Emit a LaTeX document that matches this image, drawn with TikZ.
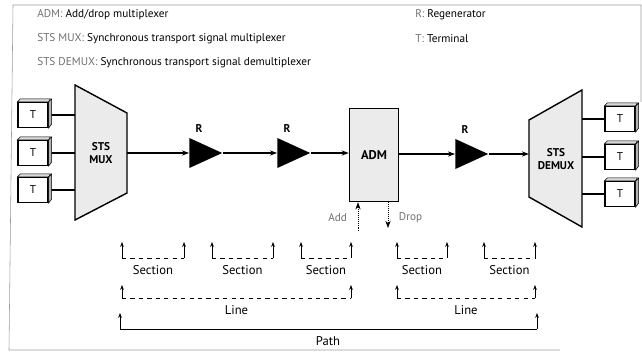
\documentclass[tikz,border=0pt]{standalone}
\usepackage{fontspec}
\setmainfont{PT Sans}
\usepackage{tikz}
\usetikzlibrary{arrows.meta,calc,positioning,shapes.geometric}
\definecolor{panel}{HTML}{EBEBEB}
\definecolor{frameline}{HTML}{9C9C9C}
\definecolor{abbrev}{HTML}{707070}

\begin{document}
\begin{tikzpicture}[x=0.025cm, y=-0.025cm, >={Stealth[length=1.8mm,width=1.3mm]}, font=\footnotesize,
    term/.style={draw, line width=0.9pt, fill=white, minimum width=0.75cm, minimum height=0.62cm, inner sep=0pt},
    regen/.style={isosceles triangle, isosceles triangle stretches, fill=black, minimum width=0.75cm, minimum height=0.82cm, inner sep=0pt},
    unit/.style={font=\footnotesize\bfseries, align=center, inner sep=0pt},
    legend/.style={anchor=west, inner sep=0pt},
    span/.style={font=\small},
    tick/.style={-{Stealth[length=1.2mm,width=0.9mm]}, thin}]
    \useasboundingbox (0,0) rectangle (642,354);
    \draw[frameline] (641,102) -- (641,5) -- (13,5) -- (9,350) -- (560,350);
    \node[legend] (kadm) at (37,15) {\textcolor{abbrev}{ADM:} Add/drop multiplexer};
    \node[legend] (kmux) at (37,39) {\textcolor{abbrev}{STS MUX:} Synchronous transport signal multiplexer};
    \node[legend] (kdemux) at (37,63) {\textcolor{abbrev}{STS DEMUX:} Synchronous transport signal demultiplexer};
    \node[legend] (kr) at (415,15) {\textcolor{abbrev}{R:} Regenerator};
    \node[legend] (kt) at (415,39) {\textcolor{abbrev}{T:} Terminal};
    \draw[line width=1pt, fill=panel] (75,85) coordinate (mux nw) -- (127,113) -- (127,193) -- (75,220) -- cycle;
    \draw[line width=1pt, fill=panel] (529,120) coordinate (demux w) -- (582,90) coordinate (demux ne) -- (582,227) -- (529,197) -- cycle;
    \node[unit] (mux) at (101,153) {STS\\MUX};
    \node[unit] (demux) at (556,159) {STS\\DEMUX};
    \coordinate (muxout) at (127,153);
    \foreach \y [count=\i] in {115,153,190} {
      \node[term] (tl\i) at (33,\y) {T};
      \draw[line width=0.9pt] (tl\i.east) -- (tl\i.east -| mux nw);
    }
    \foreach \y [count=\i] in {119,157,194} {
      \node[term] (tr\i) at (620,\y) {T};
      \draw[line width=0.9pt] (tr\i.west) -- (tr\i.west -| demux ne);
    }
    \foreach \t in {tl1,tl2,tl3,tr1,tr2,tr3} {
      \draw[thin, fill=gray!30] (\t.north west) -- ++(3,-3) -- ++(30,0) -- (\t.north east) -- cycle;
      \draw[thin, fill=gray!60] (\t.north east) -- ++(3,-3) -- ++(0,25) -- (\t.south east) -- cycle;
    }
    \node[regen] (r1) at (199,153) {};
    \node[regen] (r2) at (287,153) {};
    \node[regen] (r3) at (465,154) {};
    \foreach \r in {r1,r2,r3} \node[above=3pt of \r, font=\footnotesize\bfseries] (\r l) {R};
    \node[draw, line width=1.2pt, fill=panel, minimum width=1.22cm, minimum height=2.32cm, font=\small\bfseries] (adm) at (374,155) {ADM};
    \draw[->, thick] (muxout) -- (r1.west);
    \draw[->, thick] (r1.east) -- (r2.west);
    \draw[->, thick] (r2.east) -- (r2.east -| adm.west);
    \draw[->, thick] (adm.east |- r3) -- (r3.west);
    \draw[->, thick] (r3.east) -- (r3.east -| demux w);
    \coordinate (addfoot) at (358,231);
    \coordinate (dropfoot) at (388,228);
    \draw[->, densely dotted] (addfoot) -- (addfoot |- adm.south);
    \draw[->, densely dotted] (dropfoot |- adm.south) -- (dropfoot);
    \node[anchor=east, text=abbrev] (add) at (352,218) {Add};
    \node[anchor=west, text=abbrev] (drop) at (394,218) {Drop};
    \foreach \a/\b [count=\i] in {122/184,212/273,301/351,397/447,484/535} {
      \draw[tick] (\a,258) -- (\a,242);
      \draw[dashed, thin] (\a,258) -- (\b,258);
      \draw[tick] (\b,258) -- (\b,242);
      \node[span] (sec\i) at ({(\a+\b)/2},270) {Section};
    }
    \foreach \a/\b [count=\i] in {122/351,397/535} {
      \draw[tick] (\a,298) -- (\a,285);
      \draw[dashed, thin] (\a,298) -- (\b,298);
      \draw[tick] (\b,298) -- (\b,285);
      \node[span] (line\i) at ({(\a+\b)/2},310) {Line};
    }
    \draw[tick] (120,329) -- (120,313);
    \draw[thin] (120,329) -- (537,329);
    \draw[tick] (537,329) -- (537,313);
    \node[span] (path) at (328,341) {Path};
\end{tikzpicture}
\end{document}
